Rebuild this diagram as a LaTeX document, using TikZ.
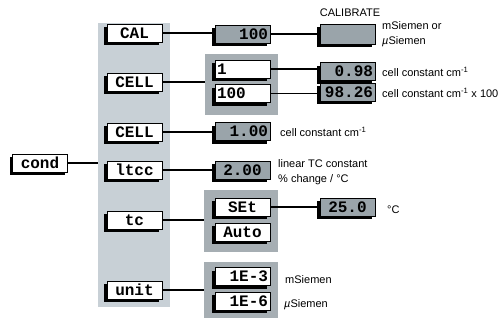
\documentclass[tikz,border=0pt]{standalone}
\usepackage{fontspec}
\setmainfont{Liberation Sans}
\newfontfamily\lcdfont{Liberation Mono}
\usetikzlibrary{shadows}
\definecolor{menubg}{RGB}{200,208,214}
\definecolor{grpgray}{RGB}{166,174,179}
\definecolor{valgray}{RGB}{154,164,170}
\begin{document}
\begin{tikzpicture}[x=1pt, y=-1pt,
    keybox/.style={rectangle, draw=black, line width=0.6pt, fill=white,
        minimum width=55pt, minimum height=18pt, inner sep=0pt,
        text width=51pt, align=center,
        font=\lcdfont\bfseries\fontsize{16}{16}\selectfont,
        general shadow={fill=black, shadow xshift=-3pt, shadow yshift=-3pt}},
    valbox/.style={keybox, fill=valgray},
    group/.style={rectangle, fill=grpgray, inner sep=0pt},
    note/.style={anchor=west, inner sep=0pt, align=left,
        font=\fontsize{11}{15}\selectfont},
    link/.style={line width=1.4pt}
]
    \useasboundingbox (0,0) rectangle (501,322);

    % fundos
    \node[rectangle, fill=menubg, minimum width=72pt, minimum height=284pt,
        inner sep=0pt] (menu) at (134,165) {};
    \node[group, minimum width=73pt, minimum height=61pt] (cellgrp) at (241.5,84.5) {};
    \node[group, minimum width=74pt, minimum height=62pt] (tcgrp) at (241,221) {};
    \node[group, minimum width=74pt, minimum height=56pt] (unitgrp) at (241,290) {};

    % menu principal
    \node[keybox] (cond) at (40,163) {cond};
    \node[keybox] (cal) at (134.5,33) {CAL};
    \node[keybox] (cell) at (134.5,82) {CELL};
    \node[keybox] (cella) at (134.5,132) {CELL};
    \node[keybox] (ltcc) at (134.5,170) {ltcc};
    \node[keybox] (tc) at (134.5,220) {tc};
    \node[keybox] (unit) at (134.5,290) {unit};

    % segunda coluna
    \node[valbox, align=right] (calv) at (242.5,34) {100};
    \node[keybox, align=left] (one) at (242.5,69) {1};
    \node[keybox, align=left] (hundred) at (242.5,93.5) {100};
    \node[valbox, align=right] (cellv) at (242.5,131.5) {1.00};
    \node[valbox] (ltccv) at (242.5,170) {2.00};
    \node[keybox] (set) at (242.5,207) {SEt};
    \node[keybox] (auto) at (242.5,232) {Auto};
    \node[keybox, align=right] (em3) at (242.5,276.5) {1E-3};
    \node[keybox, align=right] (em6) at (242.5,301) {1E-6};

    % terceira coluna
    \node[valbox, minimum height=20pt] (calib) at (347.5,34) {};
    \node[valbox, align=right] (v098) at (347.5,71.5) {0.98};
    \node[valbox, align=right] (v9826) at (347.5,92) {98.26};
    \node[valbox] (v250) at (347.5,207) {25.0};

    % textos
    \node[font=\fontsize{11}{13}\selectfont, inner sep=0pt] (calibtxt) at (350,13) {CALIBRATE};
    \node[note] (calunit) at (382,34) {mSiemen or\\{\itshape µ}Siemen};
    \node[note] (t098) at (382,72) {cell constant cm\textsuperscript{-1}};
    \node[note] (t9826) at (382,93) {cell constant cm\textsuperscript{-1} x 100};
    \node[note] (tcell) at (280,132) {cell constant cm\textsuperscript{-1}};
    \node[note] (tltcc) at (278,172.5) {linear TC constant\\\% change / °C};
    \node[note] (tdeg) at (387,210) {°C};
    \node[note] (tm) at (285,280) {mSiemen};
    \node[note] (tu) at (284,305) {{\itshape µ}Siemen};

    % ligacoes
    \draw[link] (cond.east) -- (cond.east -| menu.west);
    \draw[link] (cal.east) -- (cal.east -| calv.west);
    \draw[link] (cell.east) -- (cell.east -| cellgrp.west);
    \draw[link] (cella.east) -- (cella.east -| cellv.west);
    \draw[link] (ltcc.east) -- (ltcc.east -| ltccv.west);
    \draw[link] (tc.east) -- (tc.east -| tcgrp.west);
    \draw[link] (unit.east) -- (unit.east -| unitgrp.west);
    \draw[link] (calv.east) -- (calv.east -| calib.west);
    \draw[link] (one.east) -- (one.east -| v098.west);
    \draw[link] (hundred.east) -- (hundred.east -| v9826.west);
    \draw[link] (set.east) -- (set.east -| v250.west);

\end{tikzpicture}
\end{document}
